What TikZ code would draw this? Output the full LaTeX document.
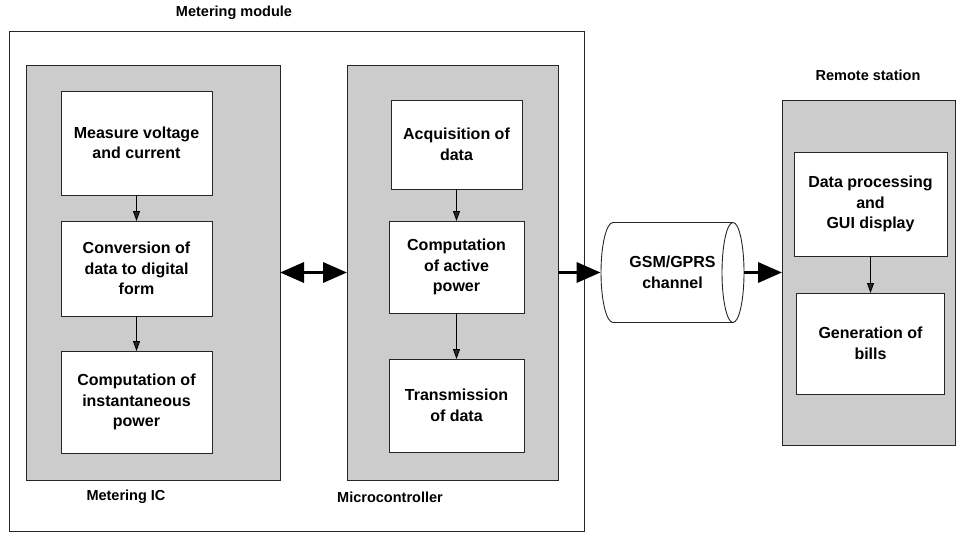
\documentclass[tikz,border=0pt]{standalone}
\usepackage{fontspec}
\setmainfont{Liberation Sans}
\usetikzlibrary{arrows.meta}

\begin{document}
\begin{tikzpicture}[
            x=1pt, y=-1pt, line width=0.9pt, draw=black!85,
            font=\fontsize{16}{20.5}\selectfont\bfseries,
        frame/.style={draw=black!85,rectangle,inner sep=0pt,outer sep=0pt},
        unit/.style={frame,fill=black!20},
        task/.style={frame,fill=white,align=center},
        caption/.style={font=\fontsize{14.5}{17}\selectfont\bfseries},
        flow/.style={-{Triangle[length=10pt,width=7pt]}},
        link/.style={line width=3.5pt,-{Triangle[length=24pt,width=20pt]}},
        dlink/.style={line width=3.5pt,{Triangle[length=24pt,width=20pt]}-{Triangle[length=24pt,width=20pt]}}
                                ]
          \useasboundingbox (0,0) rectangle (965,535);

          % metering module
          \node[frame,minimum width=575pt,minimum height=500pt] (module) at (296.5,281) {};
          \node[unit,minimum width=254pt,minimum height=415pt] (ic) at (153,272.5) {};
          \node[unit,minimum width=211pt,minimum height=415pt] (mc) at (452.5,272.5) {};

          \node[task,minimum width=151pt,minimum height=104pt] (measure) at (136.5,143) {Measure voltage\\and current};
          \node[task,minimum width=151pt,minimum height=95pt] (convert) at (136.5,268.5) {Conversion of\\data to digital\\form};
          \node[task,minimum width=151pt,minimum height=102pt] (instant) at (136.5,402) {Computation of\\instantaneous\\power};

          \node[task,minimum width=131pt,minimum height=89pt] (acquire) at (456.5,144.5) {Acquisition of\\data};
          \node[task,minimum width=135pt,minimum height=92pt] (active) at (456.5,267) {Computation\\of active\\power};
          \node[task,minimum width=135pt,minimum height=93pt] (transmit) at (456.5,405.5) {Transmission\\of data};

          % channel
          \node[align=center,minimum width=143pt,minimum height=100pt,inner sep=0pt] (chan) at (672.5,272.5) {GSM/GPRS\\channel};
          \draw (613,222.5) arc[start angle=270,end angle=90,x radius=12,y radius=50] -- (733,322.5);
          \draw (613,222.5) -- (733,222.5);
          \draw (733,272.5) ellipse[x radius=11,y radius=50];

          % remote station
          \node[unit,minimum width=173pt,minimum height=345pt] (remote) at (868.5,272.5) {};
          \node[task,minimum width=153pt,minimum height=104pt] (process) at (870.5,204) {Data processing\\and\\GUI display};
          \node[task,minimum width=148pt,minimum height=101pt] (bills) at (870.5,343.5) {Generation of\\bills};

          \node[caption] (modlabel) at (234,13) {Metering module};
          \node[caption] (iclabel) at (126,497) {Metering IC};
          \node[caption] (mclabel) at (390,497) {Microcontroller};
          \node[caption] (remlabel) at (868,75) {Remote station};

          \path[draw=black]
            (measure) edge[flow] (convert)
            (convert) edge[flow] (instant)
            (acquire) edge[flow] (active)
            (active) edge[flow] (transmit)
            (process) edge[flow] (bills);

          \draw[dlink,black] (ic) -- (mc);
          \draw[link,black] (mc) -- (chan);
          \draw[link,black] (chan) -- (remote);
    \end{tikzpicture}
\end{document}
